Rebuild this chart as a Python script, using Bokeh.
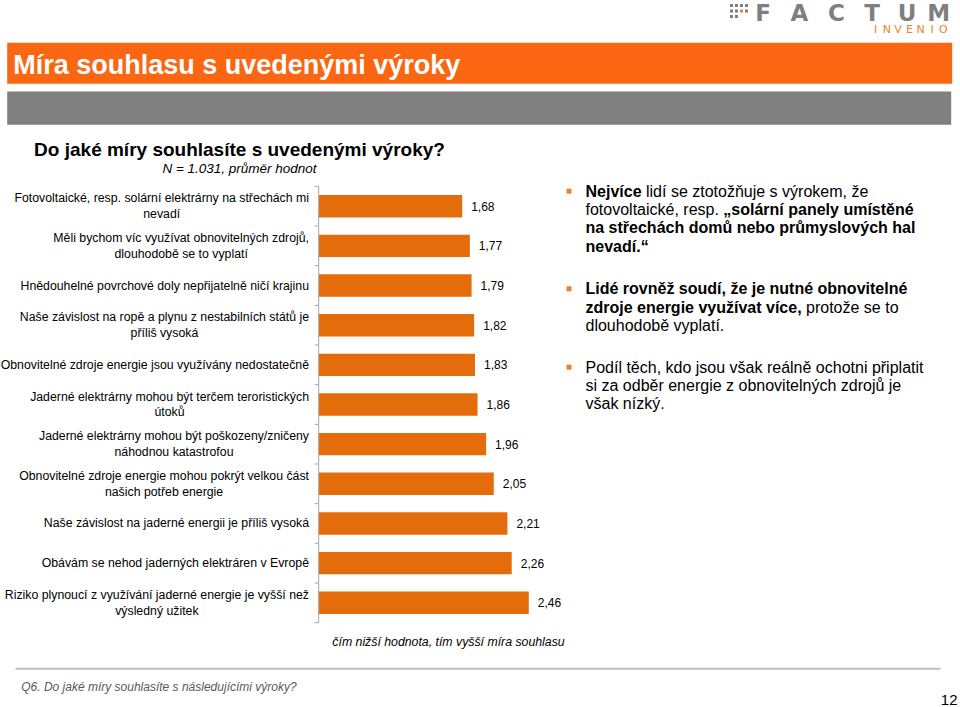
import unicodedata
from bokeh.plotting import figure
from bokeh.models import Range1d
from bokeh.core.properties import value
from bokeh.embed import file_html
from bokeh.resources import INLINE

# ---------------- data ----------------
statements = [
    "Fotovoltaické, resp. solární elektrárny na střechách mi\nnevadí",
    "Měli bychom víc využívat obnovitelných zdrojů,\ndlouhodobě se to vyplatí",
    "Hnědouhelné povrchové doly nepřijatelně ničí krajinu",
    "Naše závislost na ropě a plynu z nestabilních států je\npříliš vysoká",
    "Obnovitelné zdroje energie jsou využívány nedostatečně",
    "Jaderné elektrárny mohou být terčem teroristických\nútoků",
    "Jaderné elektrárny mohou být poškozeny/zničeny\nnáhodnou katastrofou",
    "Obnovitelné zdroje energie mohou pokrýt velkou část\nnašich potřeb energie",
    "Naše závislost na jaderné energii je příliš vysoká",
    "Obávám se nehod jaderných elektráren v Evropě",
    "Riziko plynoucí z využívání jaderné energie je vyšší než\nvýsledný užitek",
]
mean_scores = [1.68, 1.77, 1.79, 1.82, 1.83, 1.86, 1.96, 2.05, 2.21, 2.26, 2.46]

slide_title = "Míra souhlasu s uvedenými výroky"
chart_title = "Do jaké míry souhlasíte s uvedenými výroky?"
chart_subtitle = "N = 1.031, průměr hodnot"
axis_note = "čím nižší hodnota, tím vyšší míra souhlasu"
footnote = "Q6. Do jaké míry souhlasíte s následujícími výroky?"
page_number = "12"

# commentary: paragraphs -> lines -> runs (text, bold)
commentary = [
    [
        [("Nejvíce", True), (" lidí se ztotožňuje s výrokem, že", False)],
        [("fotovoltaické, resp. ", False), ("„solární panely umístěné", True)],
        [("na střechách domů nebo průmyslových hal", True)],
        [("nevadí.“", True)],
    ],
    [
        [("Lidé rovněž soudí, že je nutné obnovitelné", True)],
        [("zdroje energie využívat více,", True), (" protože se to", False)],
        [("dlouhodobě vyplatí.", False)],
    ],
    [
        [("Podíl těch, kdo jsou však reálně ochotni připlatit", False)],
        [("si za odběr energie z obnovitelných zdrojů je", False)],
        [("však nízký.", False)],
    ],
]

# ---------------- text metrics (Arial / Liberation Sans, 1/1000 em) ----------------
_REG = dict(zip("abcdefghijklmnopqrstuvwxyz",
                [556, 556, 500, 556, 556, 278, 556, 556, 222, 222, 500, 222, 833,
                 556, 556, 556, 556, 333, 500, 278, 556, 500, 722, 500, 500, 500]))
_REG.update(zip("ABCDEFGHIJKLMNOPQRSTUVWXYZ",
                [667, 667, 722, 722, 667, 611, 778, 722, 278, 500, 667, 556, 833,
                 722, 778, 667, 778, 722, 667, 611, 722, 667, 944, 667, 667, 611]))
_REG.update({" ": 278, ",": 278, ".": 278, "/": 278, "-": 333, "?": 556, ":": 278,
             "„": 333, "“": 333, "í": 278})
_BOLD = dict(zip("abcdefghijklmnopqrstuvwxyz",
                 [556, 611, 556, 611, 556, 333, 611, 611, 278, 278, 556, 278, 889,
                  611, 611, 611, 611, 389, 556, 333, 611, 556, 778, 556, 556, 500]))
_BOLD.update(zip("ABCDEFGHIJKLMNOPQRSTUVWXYZ",
                 [722, 722, 722, 722, 667, 611, 778, 722, 278, 556, 722, 611, 833,
                  722, 778, 667, 778, 722, 667, 611, 722, 667, 944, 667, 667, 611]))
_BOLD.update({" ": 278, ",": 278, ".": 278, "/": 278, "-": 333, "?": 611, ":": 333,
              "„": 500, "“": 500, "í": 278})


def text_width(s, size, bold=False):
    table = _BOLD if bold else _REG
    total = 0
    for ch in s:
        if ch.isdigit():
            total += 556
            continue
        if ch not in table:
            base = unicodedata.normalize("NFD", ch)[0]
            total += table.get(base, 556)
        else:
            total += table[ch]
    return total * size / 1000.0


# ---------------- layout / style (page pixel coordinates) ----------------
W, H = 960, 707
FONT = "Liberation Sans"
ORANGE_BAR = "#FA6611"
BAR_COLOR = "#E46C0A"
LOGO_ORANGE = "#F0822D"
GREY = "#808080"

AXIS_X, UNIT_PX = 318.2, 85.4        # value 0 position, px per unit
ROW0_Y, ROW_PX = 205.7, 39.66        # first row centre, px per row
LABEL_RIGHT = 308.5
LABEL_SIZE = 12.3

p = figure(width=W, height=H,
           x_range=Range1d(0, W), y_range=Range1d(H, 0),
           output_backend="svg", toolbar_location=None,
           x_axis_type=None, y_axis_type=None, min_border=0,
           outline_line_color=None)
p.background_fill_color = "white"
p.border_fill_color = "white"

p.extra_x_ranges = {"val": Range1d(-AXIS_X / UNIT_PX, (W - AXIS_X) / UNIT_PX)}
p.extra_y_ranges = {"row": Range1d((H - ROW0_Y) / ROW_PX, -ROW0_Y / ROW_PX)}

# ---- header: logo ----
dot_x = [731, 736, 741, 746, 731, 736, 741, 746, 731, 736]
dot_y = [5, 5, 5, 5, 10.5, 10.5, 10.5, 10.5, 16, 16]
dot_c = [GREY, GREY, GREY, GREY, GREY, GREY, LOGO_ORANGE, GREY, GREY, GREY]
p.rect(x=dot_x, y=dot_y, width=3, height=3, fill_color=dot_c, line_color=None)
logo_letters = list("FACTUM")
logo_x = [762.5, 799, 836, 871.7, 906.7, 938.3]
p.text(x=logo_x, y=[12] * 6, text=logo_letters, text_font=value("DejaVu Sans"),
       text_font_style="bold", text_font_size="23px", text_color="#7F7F7F",
       text_align="center", text_baseline="middle")
sub_letters = list("INVENIO")
sub_x = [875 + 11.3 * i for i in range(7)]
p.text(x=sub_x, y=[28.5] * 7, text=sub_letters, text_font=value("DejaVu Sans"),
       text_font_size="11px", text_color=LOGO_ORANGE, text_align="center",
       text_baseline="middle")

# ---- title bar ----
p.quad(left=[6.7], right=[951.7], top=[42.3], bottom=[83.3], fill_color=ORANGE_BAR, line_color=None)
p.quad(left=[6.7], right=[950.7], top=[91], bottom=[124.3], fill_color=GREY, line_color=None)
p.text(x=[12.7], y=[64], text=[slide_title], text_font=value(FONT), text_font_style="bold",
       text_font_size="27px", text_color="white", text_align="left", text_baseline="middle")

# ---- chart heading ----
p.text(x=[239], y=[148.5], text=[chart_title], text_font=value(FONT), text_font_style="bold",
       text_font_size="19px", text_color="black", text_align="center", text_baseline="middle")
p.text(x=[239], y=[168], text=[chart_subtitle], text_font=value(FONT), text_font_style="italic",
       text_font_size="13.5px", text_color="black", text_align="center", text_baseline="middle")

# ---- bars ----
rows = list(range(len(statements)))
p.hbar(y=rows, left=0, right=mean_scores, height=0.565, fill_color=BAR_COLOR,
       line_color=None, x_range_name="val", y_range_name="row")

# axis line + ticks
p.segment(x0=[0], y0=[-0.5], x1=[0], y1=[len(statements) - 0.5], line_color="#A6A6A6",
          line_width=1, x_range_name="val", y_range_name="row")
tick_rows = [r - 0.5 for r in range(len(statements) + 1)]
p.segment(x0=[-4 / UNIT_PX] * len(tick_rows), y0=tick_rows, x1=[0] * len(tick_rows), y1=tick_rows,
          line_color="#A6A6A6", line_width=1, x_range_name="val", y_range_name="row")

# value labels
p.text(x=mean_scores, y=rows, text=[f"{v:.2f}".replace(".", ",") for v in mean_scores],
       x_offset=9, text_font=value(FONT), text_font_size="12px", text_color="black",
       text_align="left", text_baseline="middle", x_range_name="val", y_range_name="row")

# category labels (centred multi-line, right edge aligned)
label_x = [LABEL_RIGHT - max(text_width(l, LABEL_SIZE) for l in s.split("\n")) / 2 for s in statements]
p.text(x=label_x, y=rows, text=statements, text_font=value(FONT),
       text_font_size=f"{LABEL_SIZE}px", text_color="black", text_align="center",
       text_baseline="middle", text_line_height=1.12, y_range_name="row")

# ---- commentary on the right ----
TEXT_X, BULLET_X, COM_SIZE, LINE_H = 585, 568.5, 16, 18.3
para_y = [190.7, 288.3, 366.7]
run_x, run_y, run_t, run_b = [], [], [], []
for py0, para in zip(para_y, commentary):
    p.rect(x=[BULLET_X], y=[py0], width=5, height=5, fill_color=LOGO_ORANGE, line_color=None)
    for li, line in enumerate(para):
        x = TEXT_X
        for t, b in line:
            lead = len(t) - len(t.lstrip(" "))
            x += text_width(" " * lead, COM_SIZE, b)
            run_x.append(x)
            run_y.append(py0 + li * LINE_H)
            run_t.append(t.strip(" "))
            run_b.append(b)
            x += text_width(t.lstrip(" "), COM_SIZE, b)
for bold in (False, True):
    idx = [i for i, b in enumerate(run_b) if b == bold]
    p.text(x=[run_x[i] for i in idx], y=[run_y[i] for i in idx], text=[run_t[i] for i in idx],
           text_font=value(FONT), text_font_style="bold" if bold else "normal",
           text_font_size=f"{COM_SIZE}px", text_color="black", text_align="left",
           text_baseline="middle")

# ---- footer ----
p.text(x=[448], y=[641.7], text=[axis_note], text_font=value(FONT), text_font_style="italic",
       text_font_size="12.3px", text_color="black", text_align="center", text_baseline="middle")
p.segment(x0=[15], y0=[668.3], x1=[940], y1=[668.3], line_color="#BFBFBF", line_width=2)
p.text(x=[20.7], y=[686], text=[footnote], text_font=value(FONT), text_font_style="italic",
       text_font_size="12px", text_color="#595959", text_align="left", text_baseline="middle")
p.text(x=[957], y=[699.5], text=[page_number], text_font=value(FONT),
       text_font_size="15px", text_color="black", text_align="right", text_baseline="middle")

open("out.html", "w").write(file_html(p, INLINE))
